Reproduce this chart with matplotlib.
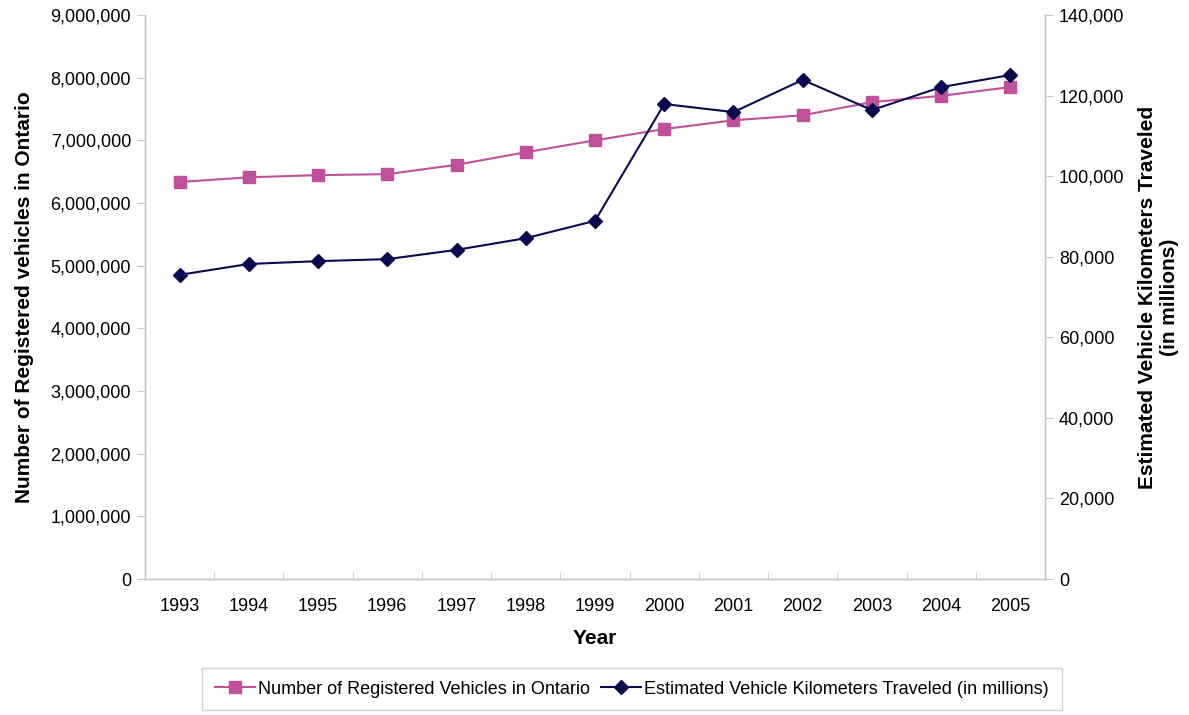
import matplotlib
matplotlib.use("Agg")
import matplotlib.pyplot as plt
from matplotlib.ticker import FuncFormatter

plt.rcParams['font.family'] = ['Liberation Sans', 'DejaVu Sans']

years = ['1993', '1994', '1995', '1996', '1997', '1998', '1999', '2000', '2001', '2002', '2003', '2004', '2005']
registered = [6335000, 6410000, 6445000, 6460000, 6610000, 6810000, 7000000, 7180000, 7320000, 7400000, 7610000, 7710000, 7850000]
vkt = [75500, 78200, 78900, 79400, 81700, 84600, 88900, 117900, 115900, 123900, 116400, 122100, 125100]

left_ticks = [0, 1000000, 2000000, 3000000, 4000000, 5000000, 6000000, 7000000, 8000000, 9000000]
right_ticks = [0, 20000, 40000, 60000, 80000, 100000, 120000, 140000]

pink = '#c0509a'
navy = '#0a0a50'
grey = '#c8c8c8'

fig = plt.figure(figsize=(11.89, 7.15), dpi=100)
ax = fig.add_axes([145/1189, 1-579/715, 900/1189, 564/715])
ax2 = ax.twinx()

x = list(range(len(years)))
l1, = ax.plot(x, registered, color=pink, marker='s', markersize=8, linewidth=1.5,
              label='Number of Registered Vehicles in Ontario')
l2, = ax2.plot(x, vkt, color=navy, marker='D', markersize=7, linewidth=1.5,
               label='Estimated Vehicle Kilometers Traveled (in millions)')

ax.set_xlim(-0.5, len(years) - 0.5)
ax.set_ylim(0, 9000000)
ax2.set_ylim(0, 140000)
ax.set_yticks(left_ticks)
ax2.set_yticks(right_ticks)
fmt = FuncFormatter(lambda v, p: f'{int(v):,}')
ax.yaxis.set_major_formatter(fmt)
ax2.yaxis.set_major_formatter(fmt)

ax.set_xticks(x)
ax.set_xticklabels(years)
ax.set_xticks([i + 0.5 for i in range(-1, len(years))], minor=True)
ax.tick_params(axis='x', which='major', length=0, labelsize=13, pad=14)
ax.tick_params(axis='x', which='minor', length=5, color=grey, direction='in')
ax.tick_params(axis='y', length=6, color=grey, labelsize=13, pad=4)
ax2.tick_params(axis='y', length=6, color=grey, labelsize=13, pad=4)

for a in (ax, ax2):
    a.spines['top'].set_visible(False)
    for s in ('left', 'right', 'bottom'):
        a.spines[s].set_color(grey)
        a.spines[s].set_linewidth(1.0)

ax.set_xlabel('Year', fontsize=15, fontweight='bold', labelpad=10)
ax.set_ylabel('Number of Registered vehicles in Ontario', fontsize=15, fontweight='bold', labelpad=12)
ax2.set_ylabel('Estimated Vehicle Kilometers Traveled\n(in millions)', fontsize=15, fontweight='bold', labelpad=10)

leg = fig.legend(handles=[l1, l2], loc='center', bbox_to_anchor=(632/1189, 1-689/715), ncol=2,
                 frameon=True, fontsize=13, handlelength=2.2, handletextpad=0.2, columnspacing=0.6,
                 fancybox=False, borderpad=0.7)
leg.get_frame().set_edgecolor(grey)

fig.savefig('out.png', dpi=100)
